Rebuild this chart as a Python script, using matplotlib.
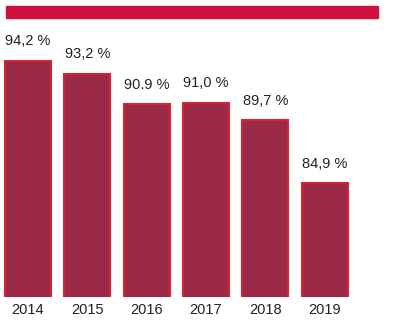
import matplotlib.pyplot as plt
from matplotlib.patches import Rectangle

years = ['2014', '2015', '2016', '2017', '2018', '2019']
values = [94.2, 93.2, 90.9, 91.0, 89.7, 84.9]
labels = ['94,2 %', '93,2 %', '90.9 %', '91,0 %', '89,7 %', '84,9 %']

plt.rcParams['font.family'] = ['Liberation Sans', 'DejaVu Sans']

fig = plt.figure(figsize=(4.12, 3.33), dpi=100)
bottom = (333 - 297) / 333
ax = fig.add_axes([0, bottom, 1, 1 - bottom])

# top band
fig.patches.append(Rectangle((6 / 412, 1 - 18 / 333), 372 / 412, 12 / 333,
                             transform=fig.transFigure, color='#d0103c', zorder=5))

x = range(len(years))
ax.bar(x, values, width=0.776, color='#9a2a47', edgecolor='#d8232f', linewidth=1.5)

for i, v in enumerate(values):
    ax.annotate(labels[i], (i, v), xytext=(0, 9), textcoords='offset points',
                ha='center', va='bottom', fontsize=10.5, color='#222222')

ax.set_xlim(-0.472, 6.475)
ax.set_ylim(76.3, 76.3 + 297 / 13.2)
ax.set_xticks(list(x))
ax.set_xticklabels(years, fontsize=10.5, color='#222222')
ax.tick_params(axis='x', length=0, pad=4)
ax.set_yticks([])
for s in ax.spines.values():
    s.set_visible(False)

fig.savefig('out.png', dpi=100)
